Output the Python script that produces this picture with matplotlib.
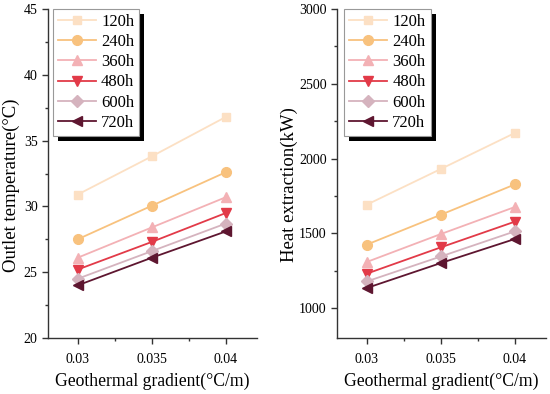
import matplotlib
matplotlib.use("Agg")
import matplotlib.pyplot as plt
from matplotlib.ticker import MultipleLocator
from matplotlib.patches import Rectangle

plt.rcParams['font.family'] = ['Liberation Serif', 'DejaVu Serif']

gradients = [0.03, 0.035, 0.04]
labels = ['120h', '240h', '360h', '480h', '600h', '720h']
temp_120 = [30.9, 33.8, 36.8]
temp_240 = [27.5, 30.05, 32.6]
temp_360 = [26.1, 28.4, 30.7]
temp_480 = [25.2, 27.3, 29.5]
temp_600 = [24.5, 26.6, 28.7]
temp_720 = [24.0, 26.1, 28.1]
heat_120 = [1691, 1930, 2171]
heat_240 = [1424, 1624, 1827]
heat_360 = [1308, 1495, 1676]
heat_480 = [1230, 1406, 1578]
heat_600 = [1178, 1345, 1513]
heat_720 = [1134, 1301, 1462]

colors = ['#FCE0C4', '#F8C27E', '#F3B1B5', '#E23A48', '#D5B3BE', '#5E1630']
markers = ['s', 'o', '^', 'v', 'D', '<']
msizes = [6, 7, 7, 7, 6, 7]

fig = plt.figure(figsize=(5.5, 3.94), dpi=100)
ax1 = fig.add_axes([48/550, 1-338/394, 209/550, 329/394])
ax2 = fig.add_axes([337/550, 1-338/394, 209/550, 329/394])

temps = [temp_120, temp_240, temp_360, temp_480, temp_600, temp_720]
heats = [heat_120, heat_240, heat_360, heat_480, heat_600, heat_720]

legs = []
for ax, data, ylim, major, minor, ylabel, lx, ylx in [
        (ax1, temps, (20, 45), 5, 2.5, 'Outlet temperature(°C)', 4.7/209, 20),
        (ax2, heats, (800, 3000), 500, 250, 'Heat extraction(kW)', 7/209, 298)]:
    for d, c, m, ms, lab in zip(data, colors, markers, msizes, labels):
        ax.plot(gradients, d, color=c, marker=m, markersize=ms, linewidth=1.3, label=lab)
    ax.set_xlim(0.028, 0.0421)
    ax.set_ylim(*ylim)
    ax.set_xticks(gradients)
    ax.set_xticklabels(['0.03', '0.035', '0.04'])
    ax.xaxis.set_minor_locator(MultipleLocator(0.0025))
    ax.yaxis.set_major_locator(MultipleLocator(major))
    ax.yaxis.set_minor_locator(MultipleLocator(minor))
    ax.spines['top'].set_visible(False)
    ax.spines['right'].set_visible(False)
    for s in ('left', 'bottom'):
        ax.spines[s].set_linewidth(1.0)
        ax.spines[s].set_color('#333333')
    ax.tick_params(which='major', direction='out', length=4, width=1, labelsize=10, color='#333333')
    ax.tick_params(axis='x', which='major', pad=6.5)
    ax.tick_params(which='minor', direction='out', length=2.5, width=1, color='#333333')
    ax.set_xlabel('Geothermal gradient(°C/m)', fontsize=12.7, labelpad=5)
    ax.set_ylabel(ylabel, fontsize=13.5)
    ax.yaxis.set_label_coords((ylx - ax.get_position().x0 * 550) / 209, 0.465)
    leg = ax.legend(loc='upper left', bbox_to_anchor=(lx, 1.0), borderaxespad=0,
                    fontsize=12, fancybox=False, edgecolor='#999999', framealpha=1,
                    handlelength=2.3, labelspacing=0.25, borderpad=0.3, handletextpad=0.3)
    leg.get_frame().set_linewidth(0.8)
    legs.append(leg)

fig.canvas.draw()
for leg in legs:
    bb = leg.get_window_extent()
    r = Rectangle((bb.x0 + 5, bb.y0 - 5), bb.width, bb.height, transform=None,
                  facecolor='black', edgecolor='none', zorder=4)
    leg.axes.add_artist(r)
    leg.set_zorder(5)

fig.savefig('out.png', dpi=100)
